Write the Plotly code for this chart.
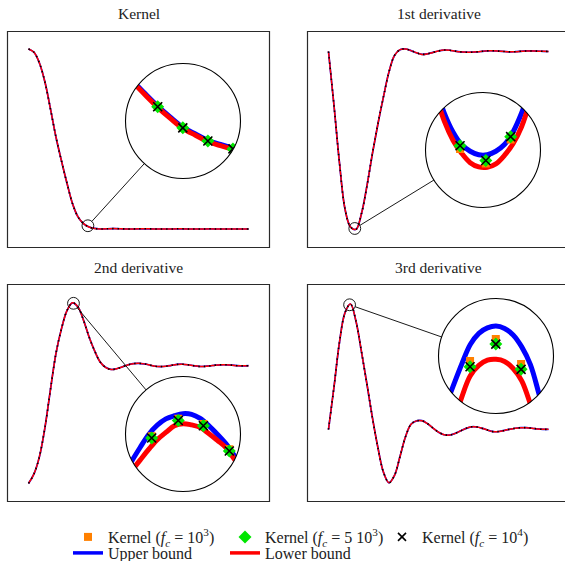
import math
import plotly.graph_objects as go

W, H = 565, 561

# ---------------------------------------------------------------- data
# normalised time axis shared by the four panels
t = [0.000, 0.025, 0.050, 0.075, 0.100, 0.125, 0.150, 0.175, 0.200, 0.225,
     0.250, 0.275, 0.300, 0.325, 0.350, 0.375, 0.400, 0.425, 0.450, 0.475,
     0.500, 0.525, 0.550, 0.575, 0.600, 0.625, 0.650, 0.675, 0.700, 0.725,
     0.750, 0.775, 0.800, 0.825, 0.850, 0.875, 0.900, 0.925, 0.950, 0.975,
     1.000]

kernel = [1.000, 0.982, 0.921, 0.815, 0.666, 0.510, 0.378, 0.254, 0.141, 0.067,
          0.030, 0.011, 0.003, 0.000, 0.001, 0.002, 0.002, 0.001, 0.000, 0.000,
          0.001, 0.001, 0.001, 0.000, 0.000, 0.000, 0.000, 0.001, 0.001, 0.000,
          0.000, 0.000, 0.000, 0.001, 0.000, 0.000, 0.000, 0.000, 0.000, 0.000,
          0.000]

deriv1 = [0.000, -0.300, -0.620, -0.875, -0.975, -0.988, -0.900, -0.745, -0.565, -0.400,
          -0.251, -0.113, -0.022, 0.010, 0.014, 0.005, -0.007, -0.016, -0.013, -0.005,
          0.003, 0.008, 0.007, 0.002, -0.002, -0.004, -0.004, -0.002, 0.001, 0.004,
          0.004, 0.002, 0.000, -0.002, -0.001, 0.001, 0.003, 0.003, 0.002, 0.001,
          0.000]

deriv2 = [-0.655, -0.602, -0.505, -0.343, -0.132, 0.068, 0.205, 0.305, 0.348, 0.325,
          0.252, 0.160, 0.083, 0.021, -0.010, -0.022, -0.018, -0.008, 0.003, 0.010,
          0.012, 0.009, 0.003, -0.004, -0.006, -0.004, 0.001, 0.006, 0.007, 0.004,
          -0.001, -0.005, -0.005, -0.002, 0.002, 0.004, 0.004, 0.002, -0.001, -0.002,
          -0.001]

deriv3 = [0.000, 0.236, 0.486, 0.649, 0.697, 0.601, 0.431, 0.250, 0.063, -0.103,
          -0.238, -0.296, -0.255, -0.150, -0.040, 0.029, 0.048, 0.049, 0.032, 0.008,
          -0.015, -0.029, -0.031, -0.022, -0.008, 0.006, 0.015, 0.014, 0.006, -0.004,
          -0.012, -0.011, -0.005, 0.002, 0.007, 0.010, 0.010, 0.007, 0.003, 0.001,
          0.001]

# magnified windows: bounds and kernel samples
zoom1_t = [0.2465, 0.2524, 0.2582, 0.2641, 0.2699, 0.2758, 0.2816, 0.2875, 0.2933, 0.2992]
zoom1_upper = [0.0410, 0.0335, 0.0265, 0.0202, 0.0145, 0.0106, 0.0070, 0.0046, 0.0025, 0.0007]
zoom1_lower = [0.0403, 0.0328, 0.0258, 0.0195, 0.0138, 0.0099, 0.0063, 0.0039, 0.0018, 0.0000]
samp1_t = [0.2582, 0.2699, 0.2816, 0.2933]
samp1_fc1e3 = [0.0261, 0.0141, 0.0066, 0.0021]
samp1_fc5e3 = [0.0261, 0.0141, 0.0066, 0.0021]
samp1_fc1e4 = [0.0261, 0.0141, 0.0066, 0.0021]

zoom2_t = [0.0975, 0.1015, 0.1055, 0.1095, 0.1135, 0.1175, 0.1215, 0.1255, 0.1295,
           0.1335, 0.1375, 0.1415]
zoom2_upper = [-0.9483, -0.9624, -0.9730, -0.9802, -0.9840, -0.9860, -0.9860, -0.9840,
               -0.9802, -0.9730, -0.9622, -0.9483]
zoom2_lower = [-0.9520, -0.9670, -0.9777, -0.9851, -0.9905, -0.9929, -0.9931, -0.9912,
               -0.9864, -0.9797, -0.9700, -0.9554]
samp2_t = [0.1088, 0.1208, 0.1324]
samp2_fc1e3 = [-0.9827, -0.9910, -0.9773]
samp2_fc5e3 = [-0.9809, -0.9893, -0.9757]
samp2_fc1e4 = [-0.9809, -0.9893, -0.9757]

zoom3_t = [0.1765, 0.1805, 0.1845, 0.1885, 0.1925, 0.1965, 0.2005, 0.2045, 0.2085,
           0.2125, 0.2165, 0.2205, 0.2245, 0.2285, 0.2325]
zoom3_upper = [0.3208, 0.3299, 0.3379, 0.3453, 0.3506, 0.3542, 0.3560, 0.3572, 0.3568,
               0.3545, 0.3504, 0.3455, 0.3401, 0.3331, 0.3248]
zoom3_lower = [0.3180, 0.3245, 0.3307, 0.3368, 0.3424, 0.3465, 0.3503, 0.3515, 0.3508,
               0.3494, 0.3459, 0.3420, 0.3379, 0.3312, 0.3241]
samp3_t = [0.1899, 0.2023, 0.2140, 0.2261]
samp3_fc1e3 = [0.3443, 0.3543, 0.3513, 0.3369]
samp3_fc5e3 = [0.3433, 0.3533, 0.3503, 0.3359]
samp3_fc1e4 = [0.3433, 0.3533, 0.3503, 0.3359]

zoom4_t = [0.0679, 0.0719, 0.0759, 0.0799, 0.0839, 0.0879, 0.0919, 0.0959, 0.0999,
           0.1039, 0.1079, 0.1119, 0.1159, 0.1199, 0.1239]
zoom4_upper = [0.6492, 0.6628, 0.6756, 0.6881, 0.6993, 0.7057, 0.7088, 0.7099, 0.7085,
               0.7048, 0.6980, 0.6880, 0.6714, 0.6530, 0.6330]
zoom4_lower = [0.6250, 0.6387, 0.6535, 0.6692, 0.6815, 0.6874, 0.6904, 0.6909, 0.6897,
               0.6857, 0.6786, 0.6655, 0.6506, 0.6358, 0.6210]
samp4_t = [0.0838, 0.0958, 0.1076]
samp4_fc1e3 = [0.6900, 0.7025, 0.6882]
samp4_fc5e3 = [0.6867, 0.6996, 0.6852]
samp4_fc1e4 = [0.6867, 0.6996, 0.6852]

titles = ["Kernel", "1st derivative", "2nd derivative", "3rd derivative"]

# ---------------------------------------------------------------- layout constants
FONT = "Liberation Serif, Times New Roman, DejaVu Serif, serif"
BLUE, RED, ORANGE, GREEN = "#0000ff", "#ff0000", "#ff8000", "#00e600"

FRAMES = [(7, 31, 270, 248), (307, 31, 570, 248),
          (7, 284, 270, 502), (307, 284, 570, 502)]       # px: left, top, right, bottom
X_RANGE = (-0.0977, 1.0977)
Y_RANGES = [(-0.1056, 1.1000), (-1.0917, 0.1139), (-0.7583, 0.4528), (-0.4028, 0.8083)]
LENS_CENTER = [(0.2700, 0.0180), (0.1195, -0.9833), (0.2045, 0.3456), (0.0959, 0.6928)]
LENS_PX = [(183, 121), (483, 150), (183, 434), (496, 356)]
R_SMALL, R_BIG = 5.9, 57.5

curves = [kernel, deriv1, deriv2, deriv3]
zooms = [(zoom1_t, zoom1_upper, zoom1_lower, samp1_t, samp1_fc1e3, samp1_fc5e3, samp1_fc1e4),
         (zoom2_t, zoom2_upper, zoom2_lower, samp2_t, samp2_fc1e3, samp2_fc5e3, samp2_fc1e4),
         (zoom3_t, zoom3_upper, zoom3_lower, samp3_t, samp3_fc1e3, samp3_fc5e3, samp3_fc1e4),
         (zoom4_t, zoom4_upper, zoom4_lower, samp4_t, samp4_fc1e3, samp4_fc5e3, samp4_fc1e4)]


def px(x, y):
    return x / W, 1 - y / H


def mask_path(cx, cy, r, pad=3, n=120):
    sq = [(cx - r - pad, cy - r - pad), (cx + r + pad, cy - r - pad),
          (cx + r + pad, cy + r + pad), (cx - r - pad, cy + r + pad)]
    ring = [(cx + r * math.cos(2 * math.pi * k / n), cy + r * math.sin(2 * math.pi * k / n))
            for k in range(n)]
    fmt = lambda p: "%.5f,%.5f" % px(*p)
    return ("M" + " L".join(fmt(p) for p in sq) + " Z "
            + "M" + " L".join(fmt(p) for p in ring) + " Z")


fig = go.Figure()
layout = {}
frame_shapes, lens_shapes, mask_shapes, link_shapes = [], [], [], []
annotations = []

for i in range(4):
    left, top, right, bottom = FRAMES[i]
    sx = (right - left) / (X_RANGE[1] - X_RANGE[0])
    y0, y1 = Y_RANGES[i]
    sy = (bottom - top) / (y1 - y0)
    rclip = min(right, W)

    n_main = i + 1
    n_zoom = i + 5
    xa, ya = ("x", "y") if n_main == 1 else ("x%d" % n_main, "y%d" % n_main)
    xz, yz = "x%d" % n_zoom, "y%d" % n_zoom

    ax_common = dict(showgrid=False, zeroline=False, showticklabels=False,
                     ticks="", showline=False, fixedrange=True)
    layout["xaxis" if n_main == 1 else "xaxis%d" % n_main] = dict(
        domain=[left / W, rclip / W],
        range=[X_RANGE[0], X_RANGE[0] + (rclip - left) / sx],
        anchor=ya, **ax_common)
    layout["yaxis" if n_main == 1 else "yaxis%d" % n_main] = dict(
        domain=[1 - bottom / H, 1 - top / H], range=[y0, y1], anchor=xa, **ax_common)

    # main curve: bounds coincide at this scale, kernel samples shown dotted on top
    vals = curves[i]
    fig.add_trace(go.Scatter(x=t, y=vals, xaxis=xa, yaxis=ya, mode="lines",
                             line=dict(color=BLUE, width=1.7, shape="spline"),
                             showlegend=False, hoverinfo="skip"))
    fig.add_trace(go.Scatter(x=t, y=vals, xaxis=xa, yaxis=ya, mode="lines",
                             line=dict(color=RED, width=1.5, shape="spline"),
                             showlegend=False, hoverinfo="skip"))
    fig.add_trace(go.Scatter(x=t, y=vals, xaxis=xa, yaxis=ya, mode="lines",
                             line=dict(color="black", width=1.6, shape="spline",
                                       dash="1.4px,4px"),
                             showlegend=False, hoverinfo="skip"))

    # magnified window
    tc, vc = LENS_CENTER[i]
    cx, cy = LENS_PX[i]
    layout["xaxis%d" % n_zoom] = dict(
        domain=[(cx - R_BIG) / W, (cx + R_BIG) / W],
        range=[tc - R_SMALL / sx, tc + R_SMALL / sx], anchor=yz, **ax_common)
    layout["yaxis%d" % n_zoom] = dict(
        domain=[1 - (cy + R_BIG) / H, 1 - (cy - R_BIG) / H],
        range=[vc - R_SMALL / sy, vc + R_SMALL / sy], anchor=xz, **ax_common)

    zt, zup, zlo, st, s1, s2, s3 = zooms[i]
    fig.add_trace(go.Scatter(x=zt, y=zup, xaxis=xz, yaxis=yz, mode="lines",
                             line=dict(color=BLUE, width=5, shape="spline"),
                             showlegend=False, hoverinfo="skip"))
    fig.add_trace(go.Scatter(x=zt, y=zlo, xaxis=xz, yaxis=yz, mode="lines",
                             line=dict(color=RED, width=5, shape="spline"),
                             showlegend=False, hoverinfo="skip"))
    fig.add_trace(go.Scatter(x=st, y=s1, xaxis=xz, yaxis=yz, mode="markers",
                             marker=dict(symbol="square", size=8, color=ORANGE),
                             showlegend=False, hoverinfo="skip"))
    fig.add_trace(go.Scatter(x=st, y=s2, xaxis=xz, yaxis=yz, mode="markers",
                             marker=dict(symbol="diamond", size=10, color=GREEN),
                             showlegend=False, hoverinfo="skip"))
    fig.add_trace(go.Scatter(x=st, y=s3, xaxis=xz, yaxis=yz, mode="markers",
                             marker=dict(symbol="x-thin", size=9,
                                         line=dict(color="black", width=1.6)),
                             showlegend=False, hoverinfo="skip"))

    # frame
    fx0, fy0 = px(left + 0.5, top + 0.5)
    fx1, fy1 = px(right - 0.5, bottom - 0.5)
    frame_shapes.append(dict(type="rect", xref="paper", yref="paper",
                             x0=fx0, y0=fy1, x1=fx1, y1=fy0,
                             line=dict(color="#2a2a2a", width=1.2)))

    # small circle on the main curve
    lens_shapes.append(dict(type="circle", xref=xa, yref=ya,
                            xsizemode="pixel", ysizemode="pixel",
                            xanchor=tc, yanchor=vc,
                            x0=-R_SMALL, x1=R_SMALL, y0=-R_SMALL, y1=R_SMALL,
                            line=dict(color="black", width=0.9)))

    # clip the magnified view to a disc and outline it
    mask_shapes.append(dict(type="path", xref="paper", yref="paper",
                            path=mask_path(cx, cy, R_BIG), fillrule="evenodd",
                            fillcolor="white", line=dict(width=0)))
    bx0, by0 = px(cx - R_BIG, cy + R_BIG)
    bx1, by1 = px(cx + R_BIG, cy - R_BIG)
    link_shapes.append(dict(type="circle", xref="paper", yref="paper",
                            x0=bx0, y0=by0, x1=bx1, y1=by1,
                            line=dict(color="black", width=1.1)))

    # connector between the two circles
    scx = left + (tc - X_RANGE[0]) * sx
    scy = top + (y1 - vc) * sy
    dx, dy = cx - scx, cy - scy
    d = math.hypot(dx, dy)
    ux, uy = dx / d, dy / d
    lx0, ly0 = px(scx + R_SMALL * ux, scy + R_SMALL * uy)
    lx1, ly1 = px(cx - R_BIG * ux, cy - R_BIG * uy)
    link_shapes.append(dict(type="line", xref="paper", yref="paper",
                            x0=lx0, y0=ly0, x1=lx1, y1=ly1,
                            line=dict(color="black", width=0.9)))

    # panel title
    annotations.append(dict(text=titles[i], xref="paper", yref="paper",
                            x=(left + (right - left) / 2) / W,
                            y=1 - (13 if i < 2 else 267) / H,
                            xanchor="center", yanchor="middle", showarrow=False,
                            font=dict(family=FONT, size=15.5, color="#222")))

# legend entries
fig.add_trace(go.Scatter(x=[None], y=[None], mode="markers", legend="legend",
                         name="Kernel (<i>f<sub>c</sub></i> = 10<sup>3</sup>)",
                         marker=dict(symbol="square", size=8, color=ORANGE)))
fig.add_trace(go.Scatter(x=[None], y=[None], mode="markers", legend="legend",
                         name="Kernel (<i>f<sub>c</sub></i> = 5 10<sup>3</sup>)",
                         marker=dict(symbol="diamond", size=10, color=GREEN)))
fig.add_trace(go.Scatter(x=[None], y=[None], mode="markers", legend="legend",
                         name="Kernel (<i>f<sub>c</sub></i> = 10<sup>4</sup>)",
                         marker=dict(symbol="x-thin", size=8,
                                     line=dict(color="black", width=1.6))))
fig.add_trace(go.Scatter(x=[None], y=[None], mode="lines", legend="legend2",
                         name="Upper bound", line=dict(color=BLUE, width=3.5)))
fig.add_trace(go.Scatter(x=[None], y=[None], mode="lines", legend="legend2",
                         name="Lower bound", line=dict(color=RED, width=3.5)))

legend_common = dict(orientation="h", xanchor="left", yanchor="top",
                     bgcolor="rgba(0,0,0,0)", borderwidth=0,
                     font=dict(family=FONT, size=16, color="#222"),
                     entrywidth=112, entrywidthmode="pixels", itemwidth=30)

fig.update_layout(
    width=W, height=H,
    margin=dict(l=0, r=0, t=0, b=0, autoexpand=False),
    paper_bgcolor="white", plot_bgcolor="white",
    showlegend=True,
    legend=dict(x=68 / W, y=1 - 520 / H, **legend_common),
    legend2=dict(x=68 / W, y=1 - 536 / H, **legend_common),
    shapes=frame_shapes + lens_shapes + mask_shapes + link_shapes,
    annotations=annotations,
    **layout,
)

fig.write_html("out.html")
